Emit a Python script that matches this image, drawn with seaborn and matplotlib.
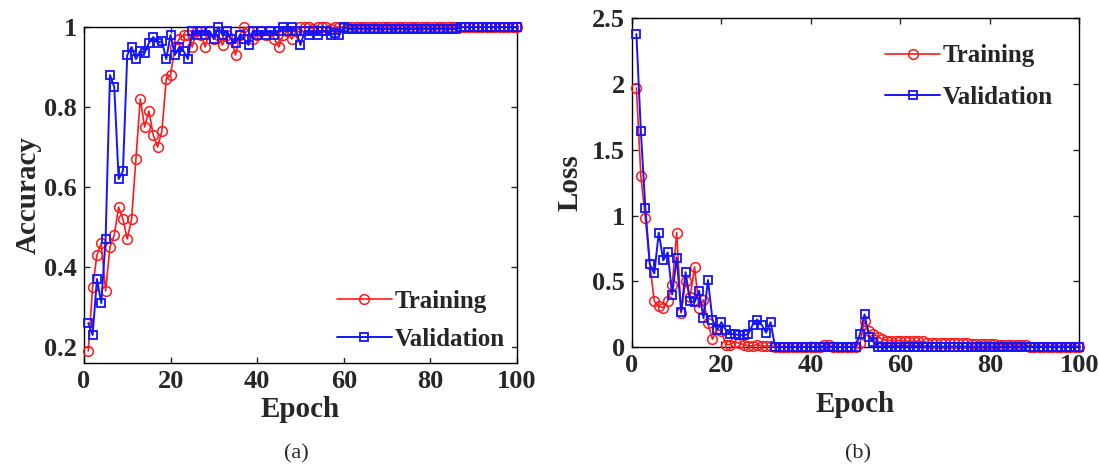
import matplotlib
matplotlib.use("Agg")
import matplotlib.pyplot as plt
import seaborn as sns
import numpy as np

epochs = list(range(1, 101))

acc_train = [
    0.19, 0.35, 0.43, 0.46, 0.34, 0.45, 0.48, 0.55, 0.52, 0.47,
    0.52, 0.67, 0.82, 0.75, 0.79, 0.73, 0.70, 0.74, 0.87, 0.88,
    0.95, 0.97, 0.98, 0.98, 0.95, 0.99, 0.98, 0.95, 0.99, 0.97,
    0.98, 0.955, 0.98, 0.97, 0.93, 0.98, 1.00, 0.99, 0.97, 0.98,
    0.99, 0.98, 0.99, 0.97, 0.95, 0.98, 0.99, 0.97, 0.99, 1.00,
    1.00, 1.00, 0.995, 1.00, 1.00, 1.00, 0.995, 1.00, 1.00, 1.00,
    1.00, 1.00, 1.00, 1.00, 1.00, 1.00, 1.00, 1.00, 1.00, 1.00,
    1.00, 1.00, 1.00, 1.00, 1.00, 1.00, 1.00, 1.00, 1.00, 1.00,
    1.00, 1.00, 1.00, 1.00, 1.00, 1.00, 1.00, 1.00, 1.00, 1.00,
    1.00, 1.00, 1.00, 1.00, 1.00, 1.00, 1.00, 1.00, 1.00, 1.00,
]

acc_val = [
    0.26, 0.23, 0.37, 0.31, 0.47, 0.88, 0.85, 0.62, 0.64, 0.93,
    0.95, 0.92, 0.94, 0.935, 0.96, 0.975, 0.96, 0.965, 0.92, 0.98,
    0.93, 0.95, 0.94, 0.92, 0.99, 0.98, 0.99, 0.98, 0.99, 0.97,
    1.00, 0.98, 0.99, 0.97, 0.96, 0.98, 0.97, 0.955, 0.99, 0.98,
    0.99, 0.98, 0.99, 0.98, 0.99, 1.00, 0.99, 1.00, 0.99, 0.955,
    0.99, 0.98, 0.99, 0.98, 0.99, 0.99, 0.98, 0.985, 0.98, 1.00,
    0.995, 0.995, 0.995, 0.995, 0.995, 0.995, 0.995, 0.995, 0.995, 0.995,
    0.995, 0.995, 0.995, 0.995, 0.995, 0.995, 0.995, 0.995, 0.995, 0.995,
    0.995, 0.995, 0.995, 0.995, 0.995, 0.995, 1.00, 1.00, 1.00, 1.00,
    1.00, 1.00, 1.00, 1.00, 1.00, 1.00, 1.00, 1.00, 1.00, 1.00,
]

loss_train = [
    1.97, 1.30, 0.98, 0.63, 0.35, 0.31, 0.30, 0.35, 0.47, 0.87,
    0.26, 0.50, 0.38, 0.61, 0.30, 0.36, 0.18, 0.06, 0.14, 0.12,
    0.02, 0.02, 0.04, 0.03, 0.02, 0.01, 0.01, 0.02, 0.01, 0.01,
    0.01, 0.003, 0.003, 0.003, 0.003, 0.003, 0.003, 0.003, 0.003, 0.003,
    0.003, 0.003, 0.02, 0.02, 0.003, 0.003, 0.003, 0.003, 0.003, 0.003,
    0.03, 0.20, 0.12, 0.10, 0.08, 0.06, 0.05, 0.05, 0.05, 0.05,
    0.045, 0.045, 0.045, 0.045, 0.045, 0.035, 0.035, 0.035, 0.035, 0.03,
    0.03, 0.03, 0.03, 0.03, 0.03, 0.025, 0.025, 0.025, 0.025, 0.025,
    0.025, 0.02, 0.02, 0.02, 0.02, 0.02, 0.02, 0.02, 0.005, 0.005,
    0.005, 0.005, 0.005, 0.005, 0.005, 0.005, 0.005, 0.005, 0.005, 0.005,
]

loss_val = [
    2.38, 1.64, 1.06, 0.63, 0.56, 0.87, 0.66, 0.72, 0.40, 0.68,
    0.27, 0.57, 0.35, 0.34, 0.43, 0.22, 0.51, 0.21, 0.13, 0.19,
    0.13, 0.10, 0.10, 0.09, 0.09, 0.10, 0.17, 0.21, 0.17, 0.11,
    0.19, 0.003, 0.003, 0.003, 0.003, 0.003, 0.003, 0.003, 0.003, 0.003,
    0.003, 0.003, 0.003, 0.003, 0.003, 0.003, 0.003, 0.003, 0.003, 0.003,
    0.10, 0.25, 0.08, 0.04, 0.005, 0.005, 0.005, 0.005, 0.005, 0.005,
    0.005, 0.005, 0.005, 0.005, 0.005, 0.005, 0.005, 0.005, 0.005, 0.005,
    0.005, 0.005, 0.005, 0.005, 0.005, 0.005, 0.005, 0.005, 0.005, 0.005,
    0.005, 0.005, 0.005, 0.005, 0.005, 0.005, 0.005, 0.005, 0.005, 0.005,
    0.005, 0.005, 0.005, 0.005, 0.005, 0.005, 0.005, 0.005, 0.005, 0.005,
]

x_ticks = [0, 20, 40, 60, 80, 100]
acc_ticks = [0.2, 0.4, 0.6, 0.8, 1.0]
acc_tick_labels = ["0.2", "0.4", "0.6", "0.8", "1"]
loss_ticks = [0, 0.5, 1, 1.5, 2, 2.5]
loss_tick_labels = ["0", "0.5", "1", "1.5", "2", "2.5"]

sns.set_style("ticks")
plt.rcParams["font.family"] = ["Liberation Serif", "DejaVu Serif"]
plt.rcParams["xtick.direction"] = "in"
plt.rcParams["ytick.direction"] = "in"

fig = plt.figure(figsize=(10.99, 4.66), dpi=100)
ax1 = fig.add_axes([0.0764, 0.221, 0.394, 0.721])
ax2 = fig.add_axes([0.575, 0.255, 0.407, 0.706])

red = "#ff1a1a"
blue = "#1414ff"


def draw(ax, ytrain, yval):
    sns.lineplot(x=epochs, y=ytrain, ax=ax, color=red, marker="o",
                 markersize=7, markerfacecolor="none", markeredgecolor=red,
                 markeredgewidth=1.1, linewidth=1.2, label="Training",
                 clip_on=False, zorder=3)
    sns.lineplot(x=epochs, y=yval, ax=ax, color=blue, marker="s",
                 markersize=6, markerfacecolor="none", markeredgecolor=blue,
                 markeredgewidth=1.3, linewidth=1.4, label="Validation",
                 clip_on=False, zorder=4)


draw(ax1, acc_train, acc_val)
draw(ax2, loss_train, loss_val)

tick_font = dict(fontsize=19, fontweight="bold", family="Liberation Serif")
label_font = dict(fontsize=21, fontweight="bold", family="Liberation Serif")

for ax in (ax1, ax2):
    ax.set_xlim(0, 100)
    ax.set_xticks(x_ticks)
    ax.set_xticklabels([str(t) for t in x_ticks], **tick_font)
    ax.tick_params(axis="both", which="both", direction="in", top=True,
                   right=True, length=4, width=1, pad=5)
    for s in ax.spines.values():
        s.set_linewidth(1.0)
        s.set_color("black")

ax1.set_xlabel("Epoch", labelpad=2, **label_font)
ax2.set_xlabel("Epoch", labelpad=10, **label_font)

ax1.set_ylim(0.16, 1.0)
ax1.set_yticks(acc_ticks)
ax1.set_yticklabels(acc_tick_labels, **tick_font)
ax1.set_ylabel("Accuracy", labelpad=2, **label_font)

ax2.set_ylim(0, 2.5)
ax2.set_yticks(loss_ticks)
ax2.set_yticklabels(loss_tick_labels, **tick_font)
ax2.set_ylabel("Loss", labelpad=6, **label_font)

leg_font = dict(size=18, weight="bold", family="Liberation Serif")
leg1 = ax1.legend(loc="lower right", bbox_to_anchor=(1.0, 0.0), prop=leg_font,
                  frameon=True, framealpha=1, edgecolor="none",
                  handlelength=2.2, handletextpad=0.1, borderpad=0.3,
                  labelspacing=0.6, borderaxespad=0.2)
leg2 = ax2.legend(loc="upper right", bbox_to_anchor=(1.0, 1.0), prop=leg_font,
                  frameon=True, framealpha=1, edgecolor="none",
                  handlelength=2.2, handletextpad=0.1, borderpad=0.3,
                  labelspacing=0.75, borderaxespad=0.75)
for leg in (leg1, leg2):
    leg.set_zorder(10)

fig.text(0.270, 0.005, "(a)", ha="center", va="bottom", fontsize=16)
fig.text(0.781, 0.005, "(b)", ha="center", va="bottom", fontsize=16)

fig.savefig("out.png", dpi=100, facecolor="white")
